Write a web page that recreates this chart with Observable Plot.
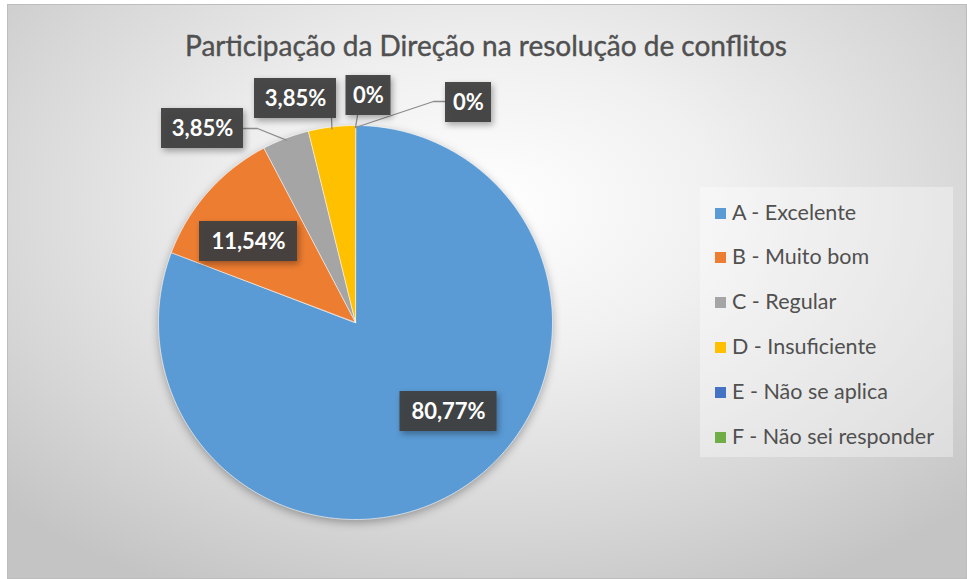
<!DOCTYPE html>
<html>
<head>
<meta charset="utf-8">
<script src="https://cdn.jsdelivr.net/npm/d3@7"></script>
<script src="https://cdn.jsdelivr.net/npm/@observablehq/plot@0.6"></script>
<style>
  html, body { margin: 0; padding: 0; background: #ffffff; }
  #wrap { position: relative; width: 967px; height: 579px; overflow: hidden; }
  #bg { position: absolute; left: 7px; top: 4px; width: 960px; height: 575px;
        background: radial-gradient(ellipse 70% 75% at 50% 35%, #ffffff 0%, #f0f0f0 35%, #d6d6d6 75%, #c4c4c4 100%);
        box-shadow: inset 0 0 0 1px #bdbdbd; }
  #title { position: absolute; left: 0; width: 972px; top: 27px; text-align: center;
           font-family: Lato, "Open Sans", sans-serif; font-size: 28px; line-height: 36px; color: #505050; margin: 0; font-weight: normal;
           -webkit-text-stroke: 0.4px #505050; }
  #plot { position: absolute; left: 0; top: 0; }
  #legend { position: absolute; left: 700px; top: 187px; width: 253px; height: 270px;
            background: rgba(255,255,255,0.35); font-family: Lato, "Open Sans", sans-serif; font-size: 21.5px; color: #505050; }
  .item { position: absolute; left: 15px; height: 26px; line-height: 26px; white-space: nowrap; }
  .sw { display: inline-block; width: 11px; height: 11px; margin-right: 6px; vertical-align: 1px; }
</style>
</head>
<body>
<div id="wrap">
  <div id="bg"></div>
  <h2 id="title">Participação da Direção na resolução de conflitos</h2>
  <div id="plot"></div>
  <div id="legend"></div>
</div>
<script>
// ---- data ----
const categories = ["A - Excelente", "B - Muito bom", "C - Regular", "D - Insuficiente", "E - Não se aplica", "F - Não sei responder"];
const values = [80.77, 11.54, 3.85, 3.85, 0, 0];
const labels = ["80,77%", "11,54%", "3,85%", "3,85%", "0%", "0%"];
const colors = ["#5B9BD5", "#ED7D31", "#A5A5A5", "#FFC000", "#4472C4", "#70AD47"];

// ---- layout (pixels) ----
const W = 967, H = 579;
const CX = 355, CY = 322, R = 197;
// label box centers, box widths, and leader start points (null = inside label)
const labelCenter = [[448, 411], [248, 241], [202, 128], [295, 98], [368, 95], [468, 102]];
const boxW = [97, 98, 82, 82, 45, 46];
const boxH = 40;
const leaderStart = [null, null, [[243, 128], [257, 128]], [[331, 118]], [[357, 115]], [[445, 101], [433, 101]]];

// ---- geometry from values ----
const total = d3.sum(values);
const pie = [];
let acc = 0;
const pt = (a, r) => [CX + r * Math.sin(a), CY - r * Math.cos(a)];
const mids = [];
values.forEach((v, i) => {
  const a0 = acc / total * 2 * Math.PI;
  const a1 = (acc + v) / total * 2 * Math.PI;
  mids.push((a0 + a1) / 2);
  acc += v;
  if (v <= 0) return;
  pie.push({cat: categories[i], x: CX, y: CY});
  const n = Math.max(2, Math.ceil((a1 - a0) / (Math.PI / 180)));
  for (let k = 0; k <= n; k++) {
    const [x, y] = pt(a0 + (a1 - a0) * k / n, R);
    pie.push({cat: categories[i], x, y});
  }
});

const boxes = labels.map((t, i) => ({
  t, x1: labelCenter[i][0] - boxW[i] / 2, x2: labelCenter[i][0] + boxW[i] / 2,
  y1: labelCenter[i][1] - boxH / 2, y2: labelCenter[i][1] + boxH / 2,
  x: labelCenter[i][0], y: labelCenter[i][1]
}));

const leaders = [];
leaderStart.forEach((s, i) => {
  if (!s) return;
  s.forEach(([x, y]) => leaders.push({i, x, y}));
  const [ex, ey] = pt(mids[i], R - 2);
  leaders.push({i, x: ex, y: ey});
});

const plot = Plot.plot({
  width: W, height: H,
  margin: 0,
  x: {domain: [0, W], range: [0, W], axis: null},
  y: {domain: [0, H], range: [0, H], axis: null},
  color: {type: "ordinal", domain: categories, range: colors},
  style: {background: "transparent", overflow: "visible"},
  marks: [
    Plot.line(pie, {x: "x", y: "y", z: "cat", fill: "cat", stroke: "#ffffff", strokeWidth: 0.6, curve: "linear-closed"}),
    Plot.line(leaders, {x: "x", y: "y", z: "i", stroke: "#8c8c8c", strokeWidth: 1.3}),
    Plot.rect(boxes, {x1: "x1", x2: "x2", y1: "y1", y2: "y2", fill: "#404040", fillOpacity: 0.95}),
    Plot.text(boxes, {x: "x", y: "y", text: "t", fill: "#ffffff", fontSize: 22, fontWeight: "bold",
      fontFamily: "Lato, 'Open Sans', sans-serif"})
  ]
});
document.getElementById("plot").appendChild(plot);
const lines = plot.querySelectorAll('g[aria-label="line"]');
if (lines[0]) lines[0].setAttribute("style", "filter: drop-shadow(0 3px 4px rgba(0,0,0,0.3))");
const rg = plot.querySelector('g[aria-label="rect"]');
if (rg) rg.setAttribute("style", "filter: drop-shadow(2px 3px 3px rgba(0,0,0,0.35))");

// legend from the plot's color scale
const cs = plot.scale("color");
const legend = document.getElementById("legend");
const rowY = [25, 69, 114, 159, 204, 249];
cs.domain.forEach((c, i) => {
  const d = document.createElement("div");
  d.className = "item";
  d.style.top = (rowY[i] - 13) + "px";
  d.innerHTML = `<span class="sw" style="background:${cs.range[i]}"></span>${c}`;
  legend.appendChild(d);
});
</script>
</body>
</html>
